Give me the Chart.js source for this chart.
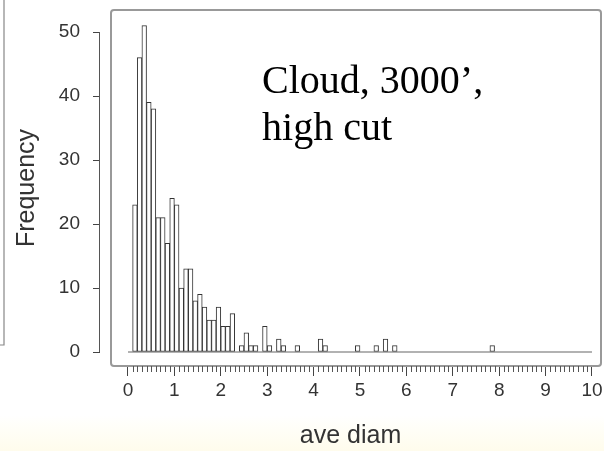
<!DOCTYPE html>
<html>
<head>
<meta charset="utf-8">
<script src="https://cdn.jsdelivr.net/npm/chart.js@4.4.1/dist/chart.umd.min.js"></script>
<style>
  html, body { margin: 0; padding: 0; background: #fff; }
  #wrap { width: 604px; height: 451px; }
</style>
</head>
<body>
<div id="wrap"><canvas id="histo" width="604" height="451"></canvas></div>
<script>
// histogram of ave diam, bins of 0.1 from 0 to 10
const binStart = 0;
const binWidth = 0.1;
const counts = [
  0, 23, 46, 51, 39, 38, 21, 21, 17, 24,
  23, 10, 13, 13, 8, 9, 7, 5, 5, 7,
  4, 4, 6, 0, 1, 3, 1, 1, 0, 4,
  1, 0, 2, 1, 0, 0, 1, 0, 0, 0,
  0, 2, 1, 0, 0, 0, 0, 0, 0, 1,
  0, 0, 0, 1, 0, 2, 0, 1, 0, 0,
  0, 0, 0, 0, 0, 0, 0, 0, 0, 0,
  0, 0, 0, 0, 0, 0, 0, 0, 1, 0,
  0, 0, 0, 0, 0, 0, 0, 0, 0, 0,
  0, 0, 0, 0, 0, 0, 0, 0, 0, 0
];
const xTicks = [0, 1, 2, 3, 4, 5, 6, 7, 8, 9, 10];
const yTicks = [0, 10, 20, 30, 40, 50];
const noteLines = ["Cloud, 3000\u2019,", "high cut"];

const histData = counts.map((c, i) => ({ x: binStart + i * binWidth + binWidth / 2, y: c }));

const sans = '"Liberation Sans", Arial, sans-serif';

// frame, minor ticks, baseline, axis line, annotation
const extras = {
  id: 'extras',
  beforeDraw(chart) {
    const ctx = chart.ctx;
    ctx.save();
    ctx.fillStyle = '#fff';
    ctx.fillRect(0, 0, chart.width, chart.height);
    // very faint warm tint at the bottom of the scan
    const g = ctx.createLinearGradient(0, 415, 0, 451);
    g.addColorStop(0, 'rgba(255,253,235,0)');
    g.addColorStop(1, 'rgba(255,252,236,1)');
    ctx.fillStyle = g;
    ctx.fillRect(0, 415, chart.width, 36);
    // edge of the neighbouring panel
    ctx.strokeStyle = '#888';
    ctx.lineWidth = 1.2;
    ctx.beginPath();
    ctx.moveTo(4, 0);
    ctx.lineTo(4, 345);
    ctx.lineTo(0, 345);
    ctx.stroke();
    ctx.restore();
  },
  afterDatasetsDraw(chart) {
    const { ctx, scales: { x, y }, chartArea } = chart;
    ctx.save();
    // baseline for the empty bins
    ctx.strokeStyle = '#666';
    ctx.lineWidth = 1.2;
    ctx.beginPath();
    ctx.moveTo(x.getPixelForValue(0), y.getPixelForValue(0));
    ctx.lineTo(x.getPixelForValue(10), y.getPixelForValue(0));
    ctx.stroke();

    // frame
    ctx.strokeStyle = '#999';
    ctx.lineWidth = 2;
    ctx.beginPath();
    ctx.roundRect(111, chartArea.top, chartArea.right - 111, chartArea.bottom - chartArea.top, 3);
    ctx.stroke();

    // y axis line
    ctx.strokeStyle = '#555';
    ctx.lineWidth = 1;
    ctx.beginPath();
    ctx.moveTo(chartArea.left - 0.5, y.getPixelForValue(0));
    ctx.lineTo(chartArea.left - 0.5, y.getPixelForValue(50));
    ctx.stroke();

    // minor ticks every 0.1
    ctx.beginPath();
    for (let k = 0; k <= 100; k++) {
      if (k % 10 === 0) continue;
      const px = Math.round(x.getPixelForValue(k / 10)) + 0.5;
      ctx.moveTo(px, chartArea.bottom);
      ctx.lineTo(px, chartArea.bottom + 6);
    }
    ctx.stroke();

    // text note
    ctx.fillStyle = '#000';
    ctx.font = '40px "Liberation Serif", "Times New Roman", serif';
    ctx.textBaseline = 'alphabetic';
    const nx = x.getPixelForValue(2.89);
    ctx.fillText(noteLines[0], nx, y.getPixelForValue(40.5));
    ctx.fillText(noteLines[1], nx, y.getPixelForValue(33.1));
    ctx.restore();
  }
};

new Chart(document.getElementById('histo'), {
  type: 'bar',
  data: {
    datasets: [{
      label: 'Frequency',
      data: histData,
      backgroundColor: '#fff',
      borderColor: '#333',
      borderWidth: 1,
      borderSkipped: false,
      barPercentage: 1,
      categoryPercentage: 1,
      grouped: false
    }]
  },
  options: {
    responsive: false,
    animation: false,
    layout: { padding: { top: 10, right: 3, left: 0, bottom: 0 } },
    plugins: {
      legend: { display: false },
      tooltip: { enabled: false }
    },
    scales: {
      x: {
        type: 'linear',
        offset: false,
        min: -0.603,
        max: 10.194,
        afterFit: s => { s.height = 85; s.paddingLeft = 0; s.paddingRight = 0; },
        afterBuildTicks: s => { s.ticks = xTicks.map(v => ({ value: v })); },
        grid: { offset: false, drawOnChartArea: false, drawTicks: true, tickLength: 10, color: '#444' },
        border: { display: false },
        ticks: {
          padding: 3,
          color: '#333',
          font: { family: sans, size: 19 },
          maxRotation: 0,
          autoSkip: false,
          callback: v => String(v)
        },
        title: {
          display: true,
          text: 'ave diam',
          color: '#333',
          padding: { top: 0, bottom: 0 },
          font: { family: sans, size: 25 }
        }
      },
      y: {
        min: -2.1875,
        max: 53.44,
        afterFit: s => { s.width = 100; s.paddingTop = 0; s.paddingBottom = 0; },
        afterBuildTicks: s => { s.ticks = yTicks.map(v => ({ value: v })); },
        grid: { drawOnChartArea: false, drawTicks: true, tickLength: 7, color: '#444' },
        border: { display: false },
        ticks: {
          padding: 13,
          color: '#333',
          font: { family: sans, size: 19 }
        },
        title: {
          display: true,
          text: 'Frequency',
          color: '#333',
          padding: { top: 12, bottom: 0 },
          font: { family: sans, size: 25 }
        }
      }
    }
  },
  plugins: [extras]
});
</script>
</body>
</html>
